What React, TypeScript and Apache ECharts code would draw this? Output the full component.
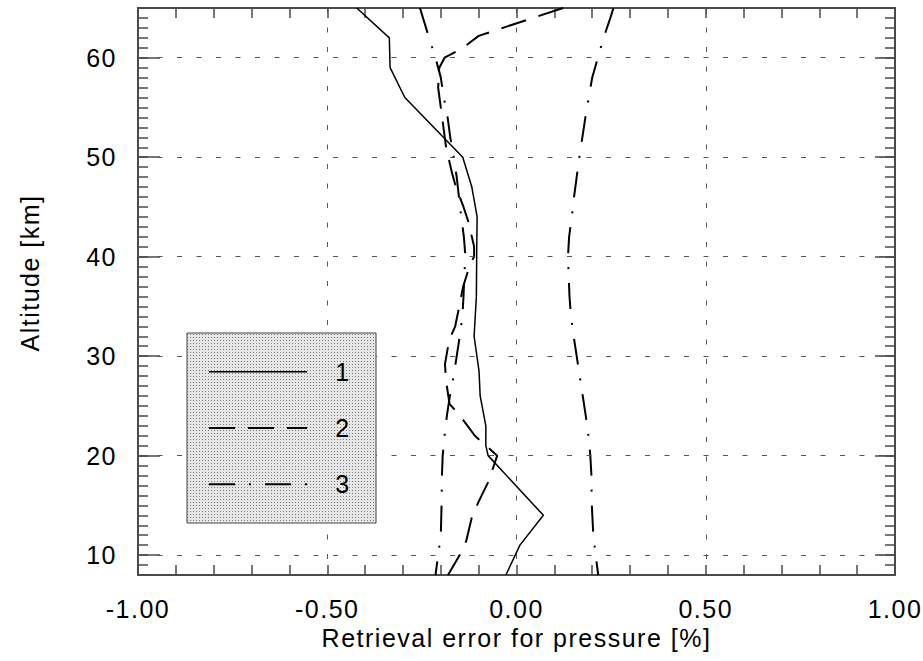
import React, { useEffect, useRef } from "react";
import * as echarts from "echarts";

// ---- data ----
// curve 1 (solid)
const alt1 = [65, 62, 59, 56, 50, 47, 44, 41, 36, 32, 28.5, 26, 23, 21, 20, 14, 11, 8];
const err1 = [-0.422, -0.336, -0.334, -0.295, -0.142, -0.118, -0.104, -0.105, -0.106, -0.112, -0.099, -0.096, -0.081, -0.081, -0.075, 0.071, 0.009, -0.028];

// curve 2 (dashed)
const alt2 = [65, 62.2, 61, 60, 59, 57, 55, 53, 51, 48.5, 47, 45, 43.5, 41, 40, 39.3, 37, 35.4, 33, 31.6, 29.2, 27.5, 25.2, 24, 22, 20, 17.4, 15.3, 13.8, 11.4, 10, 8];
const err2 = [0.123, -0.1, -0.141, -0.19, -0.204, -0.207, -0.2, -0.193, -0.186, -0.171, -0.16, -0.14, -0.127, -0.112, -0.112, -0.122, -0.141, -0.149, -0.162, -0.178, -0.189, -0.186, -0.177, -0.149, -0.11, -0.051, -0.074, -0.101, -0.118, -0.133, -0.15, -0.181];

// curve 3 (dash-dot), upper and lower branch
const alt3 = [65, 64, 62, 60, 58, 56, 54, 52, 50, 48, 46, 44, 42, 40, 38, 36, 34, 32, 30, 28, 26, 24, 22, 20, 18, 15, 12, 10, 8];
const err3Upper = [0.256, 0.248, 0.23, 0.215, 0.2, 0.191, 0.182, 0.174, 0.166, 0.159, 0.152, 0.146, 0.139, 0.136, 0.138, 0.14, 0.144, 0.151, 0.159, 0.167, 0.175, 0.183, 0.19, 0.195, 0.198, 0.199, 0.203, 0.209, 0.216];
const err3Lower = [-0.255, -0.247, -0.231, -0.214, -0.2, -0.192, -0.182, -0.175, -0.166, -0.158, -0.152, -0.146, -0.139, -0.135, -0.138, -0.14, -0.143, -0.15, -0.158, -0.166, -0.176, -0.184, -0.19, -0.195, -0.197, -0.198, -0.2, -0.207, -0.214];

const legendNames = ["1", "2", "3"];
const altTicks = [10, 20, 30, 40, 50, 60];

const xTitle = "Retrieval error for pressure [%]";
const yTitle = "Altitude [km]";

const FONT = "'Liberation Sans', Arial, sans-serif";
const FS = 25;
const AXIS_COLOR = "#4a4a4a";
const GRID_COLOR = "#555";
const DASH2 = [26, 13];
const DASH3 = [26, 14, 2, 14];

function pairs(xs: number[], ys: number[]) {
  return ys.map((y, i) => [xs[i], y]);
}

export default function App() {
  const ref = useRef<HTMLDivElement | null>(null);
  useEffect(() => {
    if (!ref.current) return;
    const chart = echarts.init(ref.current, undefined, { renderer: "svg" });

    const cv = document.createElement("canvas");
    cv.width = 3;
    cv.height = 3;
    const ctx = cv.getContext("2d");
    if (ctx) {
      ctx.fillStyle = "#e6e6e6";
      ctx.fillRect(0, 0, 3, 3);
      ctx.fillStyle = "#7a7a7a";
      ctx.fillRect(1, 1, 1, 1);
    }
    const patternFill: any = { image: cv.toDataURL(), repeat: "repeat", imageWidth: 3, imageHeight: 3 };

    const minorX = {
      type: "value",
      min: -1,
      max: 1,
      interval: 0.1,
      axisLine: { show: true, onZero: false, lineStyle: { color: AXIS_COLOR, width: 2 } },
      axisTick: { show: true, inside: true, length: 10, lineStyle: { color: AXIS_COLOR, width: 1.5 } },
      axisLabel: { show: false },
      splitLine: { show: false },
    };
    const minorY = {
      type: "value",
      min: 8,
      max: 65,
      interval: 1,
      axisLine: { show: true, onZero: false, lineStyle: { color: AXIS_COLOR, width: 2 } },
      axisTick: { show: true, inside: true, length: 10, lineStyle: { color: AXIS_COLOR, width: 1.5 } },
      axisLabel: { show: false },
      splitLine: { show: false },
    };

    const legendTop = 371.7;
    const legendStep = 56.3;

    chart.setOption({
      animation: false,
      backgroundColor: "#fff",
      textStyle: { fontFamily: FONT },
      grid: { left: 138, right: 28, top: 8, bottom: 86, containLabel: false },
      xAxis: [
        { ...minorX, position: "bottom" },
        {
          type: "value",
          position: "bottom",
          min: -1,
          max: 1,
          interval: 0.5,
          axisLine: { show: false, onZero: false },
          axisTick: { show: false },
          axisLabel: {
            show: true,
            margin: 21,
            fontSize: FS,
            color: "#000",
            fontFamily: FONT,
            formatter: (v: number) => v.toFixed(2),
          },
          splitLine: { show: true, lineStyle: { color: GRID_COLOR, width: 1, type: [5, 14.5] } },
          name: xTitle,
          nameLocation: "middle",
          nameGap: 47,
          nameTextStyle: { fontSize: FS, color: "#000", fontFamily: FONT },
        },
        { ...minorX, position: "top" },
      ],
      yAxis: [
        { ...minorY, position: "left" },
        {
          type: "value",
          position: "left",
          min: 8,
          max: 65,
          axisLine: { show: false, onZero: false },
          axisTick: {
            show: true,
            inside: true,
            length: 22,
            customValues: altTicks,
            lineStyle: { color: AXIS_COLOR, width: 1.5 },
          },
          axisLabel: {
            show: true,
            customValues: altTicks,
            margin: 21,
            fontSize: FS,
            color: "#000",
            fontFamily: FONT,
          },
          splitLine: { show: false },
          name: yTitle,
          nameLocation: "middle",
          nameGap: 96,
          nameTextStyle: { fontSize: FS, color: "#000", fontFamily: FONT, padding: [0, 0, 0, 37] },
        },
        { ...minorY, position: "right" },
        {
          type: "value",
          position: "right",
          min: 8,
          max: 65,
          axisLine: { show: false, onZero: false },
          axisTick: {
            show: true,
            inside: true,
            length: 20,
            customValues: altTicks,
            lineStyle: { color: AXIS_COLOR, width: 1.5 },
          },
          axisLabel: { show: false },
          splitLine: { show: false },
        },
      ],
      series: [
        {
          name: legendNames[0],
          type: "line",
          xAxisIndex: 0,
          yAxisIndex: 0,
          data: pairs(err1, alt1),
          showSymbol: false,
          symbol: "none",
          lineStyle: { color: "#000", width: 1.5, type: "solid" },
          markLine: {
            silent: true,
            symbol: ["none", "none"],
            label: { show: false },
            lineStyle: { color: GRID_COLOR, width: 1, type: [5, 14.5] },
            data: altTicks.map((a) => ({ yAxis: a })),
          },
          z: 3,
        },
        {
          name: legendNames[1],
          type: "line",
          xAxisIndex: 0,
          yAxisIndex: 0,
          data: pairs(err2, alt2),
          showSymbol: false,
          symbol: "none",
          lineStyle: { color: "#000", width: 2, type: DASH2 },
          z: 3,
        },
        {
          name: legendNames[2],
          type: "line",
          xAxisIndex: 0,
          yAxisIndex: 0,
          data: pairs(err3Upper, alt3),
          showSymbol: false,
          symbol: "none",
          lineStyle: { color: "#000", width: 2, type: DASH3 },
          z: 3,
        },
        {
          name: legendNames[2] + " ",
          type: "line",
          xAxisIndex: 0,
          yAxisIndex: 0,
          data: pairs(err3Lower, alt3),
          showSymbol: false,
          symbol: "none",
          lineStyle: { color: "#000", width: 2, type: DASH3 },
          z: 3,
        },
      ],
      graphic: [
        {
          type: "group",
          z: 100,
          children: [
            {
              type: "rect",
              shape: { x: 187, y: 333, width: 189, height: 190 },
              style: { fill: patternFill, stroke: "#444", lineWidth: 1 },
              z: 100,
            },
            {
              type: "line",
              shape: { x1: 209, y1: legendTop, x2: 307, y2: legendTop },
              style: { stroke: "#000", lineWidth: 1.5 },
              z: 101,
            },
            {
              type: "line",
              shape: { x1: 209, y1: legendTop + legendStep, x2: 307, y2: legendTop + legendStep },
              style: { stroke: "#000", lineWidth: 2, lineDash: DASH2 },
              z: 101,
            },
            {
              type: "line",
              shape: { x1: 209, y1: legendTop + 2 * legendStep, x2: 307, y2: legendTop + 2 * legendStep },
              style: { stroke: "#000", lineWidth: 2, lineDash: DASH3 },
              z: 101,
            },
            ...legendNames.map((n, i) => ({
              type: "text",
              x: 343,
              y: legendTop + i * legendStep,
              z: 101,
              style: {
                text: n,
                fill: "#000",
                font: `${FS}px ${FONT}`,
                align: "center",
                verticalAlign: "middle",
              },
            })),
          ],
        },
      ],
    });

    return () => chart.dispose();
  }, []);

  return (
    <div
      ref={ref}
      style={{
        position: "absolute",
        left: 0,
        top: 0,
        width: 923,
        height: 661,
        letterSpacing: "1.5px",
      }}
    />
  );
}
